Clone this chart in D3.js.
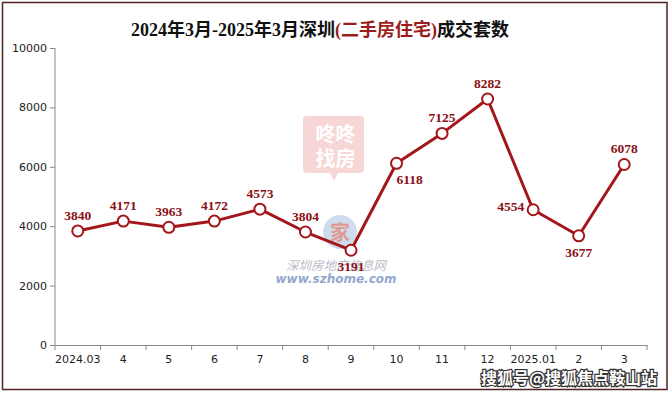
<!DOCTYPE html>
<html>
<head>
<meta charset="utf-8">
<script src="https://cdn.jsdelivr.net/npm/d3@7"></script>
<style>
  body { margin: 0; background: #fff; }
  svg { display: block; }
</style>
</head>
<body>
<script>
const months = ["2024.03", "4", "5", "6", "7", "8", "9", "10", "11", "12", "2025.01", "2", "3"]
const deals = [3840, 4171, 3963, 4172, 4573, 3804, 3191, 6118, 7125, 8282, 4554, 3677, 6078]
// where each value label sits relative to its point
const labelPos = ["up", "up", "up", "up", "up", "up", "down", "downright", "up", "up", "left", "down", "up"]
const yTicks = [0, 2000, 4000, 6000, 8000, 10000]

const width = 671
const height = 394
const red = "#a3161b"
const labelRed = "#8a1015"

const svg = d3.select("body").append("svg")
    .attr("width", width)
    .attr("height", height)

svg.append("rect")
    .attr("x", 2.5).attr("y", 2.5)
    .attr("width", 664.5).attr("height", 387)
    .attr("fill", "#fff")
    .attr("stroke", "#4d2424")
    .attr("stroke-width", 1.5)

let x = d3.scaleBand().domain(months).range([55, 647]).padding(0)
let y = d3.scaleLinear().domain([0, 10000]).range([345, 48])

// watermarks (behind the line)
let wm = svg.append("g").attr("class", "watermark")
wm.append("path")
    .attr("d", "M311,116 h49 a4,4 0 0 1 4,4 v49 a4,4 0 0 1 -4,4 h-22 l-4,8 l-4,-8 h-23 a4,4 0 0 1 -4,-4 v-49 a4,4 0 0 1 4,-4 z")
    .attr("fill", "#f3c4c4")
    .attr("opacity", 0.7)
wm.append("text").attr("x", 335.5).attr("y", 142)
    .attr("text-anchor", "middle")
    .attr("font-family", "Noto Sans CJK SC").attr("font-size", 20).attr("font-weight", 700)
    .attr("fill", "#fff").text("咚咚")
wm.append("text").attr("x", 335.5).attr("y", 166)
    .attr("text-anchor", "middle")
    .attr("font-family", "Noto Sans CJK SC").attr("font-size", 20).attr("font-weight", 700)
    .attr("fill", "#fff").text("找房")
wm.append("circle").attr("cx", 340).attr("cy", 232).attr("r", 17)
    .attr("fill", "#bdd2e8").attr("opacity", 0.75)
wm.append("text").attr("x", 340).attr("y", 240)
    .attr("text-anchor", "middle")
    .attr("font-family", "Noto Sans CJK SC").attr("font-size", 20).attr("font-weight", 700)
    .attr("fill", "#e58a7a").attr("opacity", 0.8).text("家")
wm.append("text").attr("x", 336).attr("y", 270)
    .attr("text-anchor", "middle")
    .attr("font-family", "Noto Sans CJK SC").attr("font-size", 12.5).attr("font-style", "italic")
    .attr("fill", "#bcbcc8").text("深圳房地产信息网")
wm.append("text").attr("x", 336).attr("y", 283)
    .attr("text-anchor", "middle")
    .attr("font-family", "DejaVu Sans").attr("font-size", 12).attr("font-style", "italic").attr("font-weight", 700)
    .attr("fill", "#93a8cf").text("www.szhome.com")

// title
let title = svg.append("text")
    .attr("x", 320).attr("y", 36)
    .attr("text-anchor", "middle")
    .attr("font-family", "Liberation Serif, Noto Sans CJK SC")
    .attr("font-size", 18).attr("font-weight", 700)
    .attr("fill", "#111")
title.append("tspan").text("2024年3月-2025年3月深圳")
title.append("tspan").attr("fill", "#9b1c1c").text("(二手房住宅)")
title.append("tspan").text("成交套数")

// axes
let yAxis = svg.append("g")
    .attr("transform", "translate(55,0)")
    .call(d3.axisLeft(y).tickValues(yTicks).tickSize(5).tickPadding(3).tickFormat(d3.format("d")))
let xAxis = svg.append("g")
    .attr("transform", "translate(0,345)")
    .call(d3.axisBottom(x).tickSize(0).tickPadding(10))

xAxis.selectAll(".tick-mark")
    .data(months.map(m => x(m)).concat([x.range()[1]])).enter()
    .append("line")
        .attr("x1", d => d).attr("x2", d => d)
        .attr("y1", 0).attr("y2", 5)
        .attr("stroke", "#888")

;[yAxis, xAxis].forEach(ax => {
    ax.select(".domain").attr("stroke", "#888")
    ax.selectAll(".tick line").attr("stroke", "#888")
    ax.selectAll("text")
        .attr("font-family", "DejaVu Sans")
        .attr("font-size", 11)
        .attr("fill", "#222")
})
yAxis.select(".domain").attr("d", "M0,345V48")

// line + markers
let cx = d => x(d.m) + x.bandwidth() / 2
let points = months.map((m, i) => ({ m: m, v: deals[i], pos: labelPos[i] }))

svg.append("path")
    .datum(points)
    .attr("fill", "none")
    .attr("stroke", red)
    .attr("stroke-width", 3)
    .attr("stroke-linejoin", "round")
    .attr("d", d3.line().x(cx).y(d => y(d.v)))

svg.selectAll("circle.pt")
    .data(points).enter()
    .append("circle")
        .attr("class", "pt")
        .attr("cx", cx)
        .attr("cy", d => y(d.v))
        .attr("r", 5.5)
        .attr("fill", "#fff")
        .attr("stroke", red)
        .attr("stroke-width", 2)

svg.selectAll("text.val")
    .data(points).enter()
    .append("text")
        .attr("class", "val")
        .attr("x", d => {
            if (d.pos == "left") return cx(d) - 9
            if (d.pos == "downright") return cx(d) + 13
            return cx(d)
        })
        .attr("y", d => {
            if (d.pos == "up") return y(d.v) - 11
            if (d.pos == "left") return y(d.v) + 1
            return y(d.v) + 21
        })
        .attr("text-anchor", d => d.pos == "left" ? "end" : "middle")
        .attr("font-family", "Liberation Serif")
        .attr("font-size", 13.5)
        .attr("font-weight", 700)
        .attr("fill", labelRed)
        .text(d => d.v)

// bottom-right source mark
svg.append("text")
    .attr("x", 657).attr("y", 384)
    .attr("text-anchor", "end")
    .attr("font-family", "Noto Sans CJK SC")
    .attr("font-size", 16).attr("font-weight", 700)
    .attr("fill", "#fff")
    .attr("stroke", "#333")
    .attr("stroke-width", 2.5)
    .attr("paint-order", "stroke")
    .text("搜狐号@搜狐焦点鞍山站")
</script>
</body>
</html>
